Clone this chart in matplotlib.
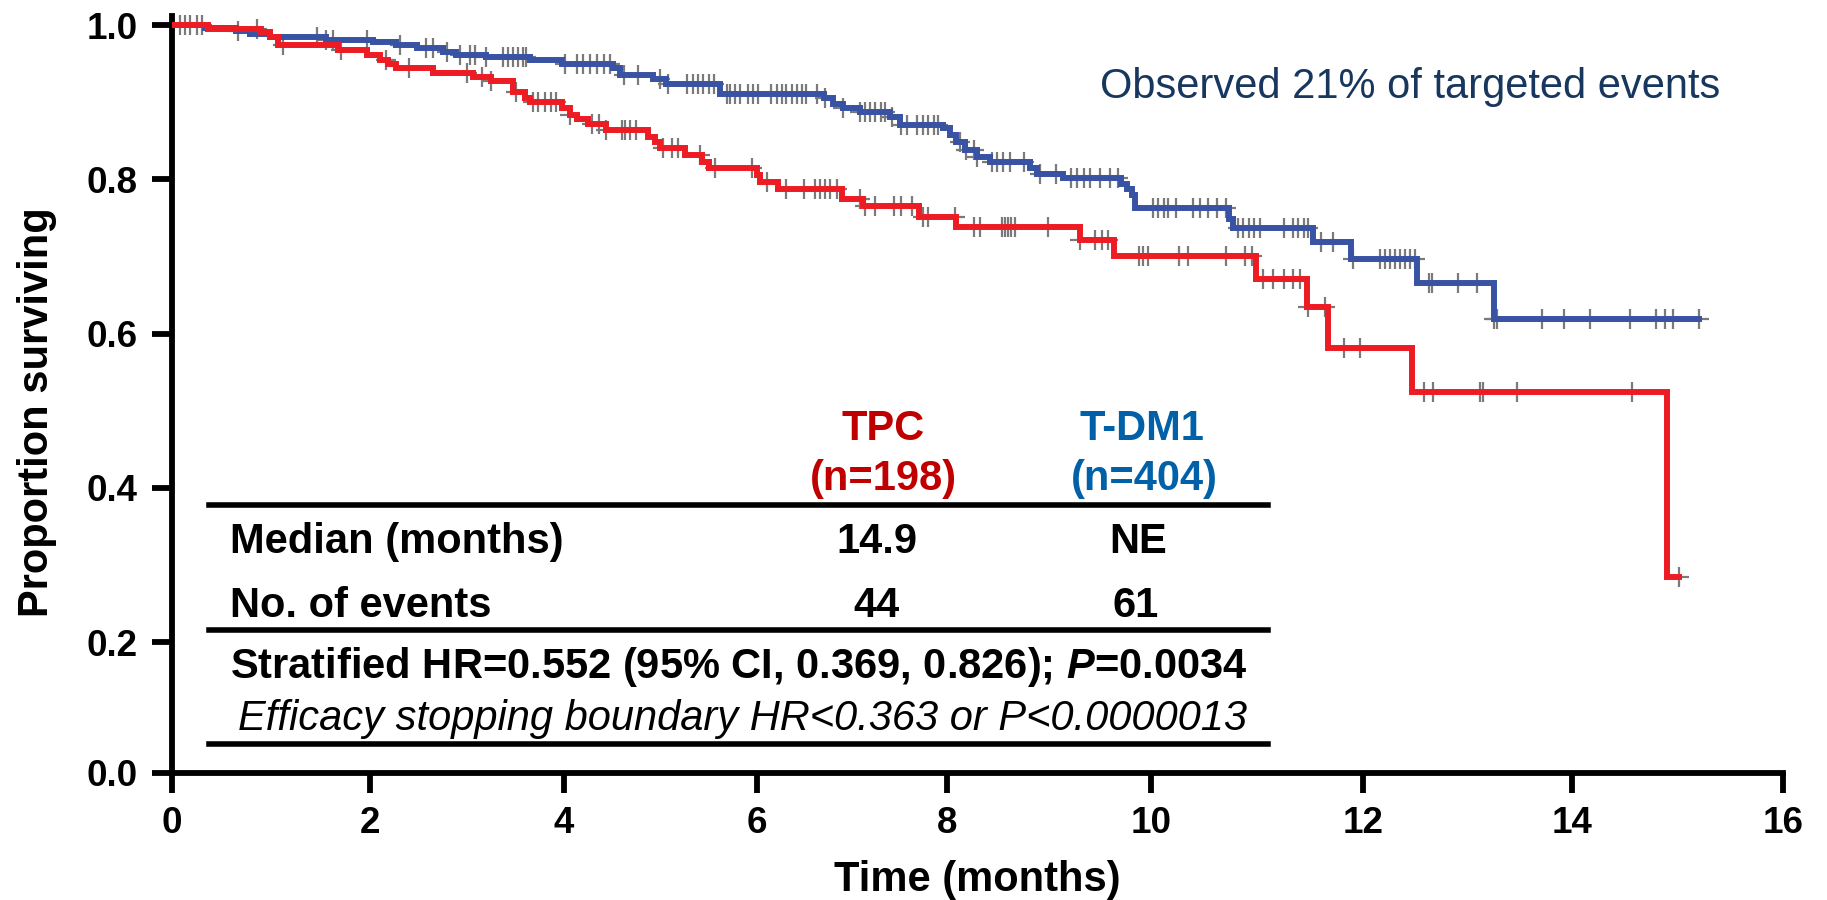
import numpy as np
import matplotlib
matplotlib.use("Agg")
import matplotlib.pyplot as plt
from matplotlib.lines import Line2D

plt.rcParams['font.family'] = ['Liberation Sans', 'DejaVu Sans']
plt.rcParams['mathtext.fontset'] = 'custom'
plt.rcParams['mathtext.rm'] = 'Liberation Sans:bold'
plt.rcParams['mathtext.bfit'] = 'Liberation Sans:italic:bold'

# Kaplan-Meier steps (time in months, proportion surviving after the drop)
tpc_time = [0, 0.36, 0.90, 0.99, 1.07, 1.68, 1.97, 2.10, 2.19, 2.27, 2.65, 3.06, 3.25, 3.47,
            3.60, 3.65, 3.98, 4.06, 4.13, 4.25, 4.44, 4.87, 4.94, 4.99, 5.25, 5.43, 5.50,
            6.00, 6.03, 6.22, 6.89, 7.12, 7.71, 8.09, 9.30, 9.64, 10.99, 11.47, 11.67,
            12.47, 14.90]
tpc_surv = [1.0, 0.995, 0.991, 0.985, 0.974, 0.968, 0.961, 0.955, 0.949, 0.944, 0.938, 0.932,
            0.927, 0.913, 0.906, 0.900, 0.892, 0.883, 0.878, 0.872, 0.864, 0.855, 0.848,
            0.840, 0.832, 0.822, 0.814, 0.805, 0.796, 0.788, 0.775, 0.765, 0.751, 0.738,
            0.721, 0.701, 0.671, 0.634, 0.581, 0.524, 0.284]
tdm1_time = [0, 0.33, 0.65, 0.79, 0.99, 1.56, 2.03, 2.27, 2.48, 2.75, 2.89, 3.20, 3.65, 3.98,
             4.51, 4.58, 4.92, 5.06, 5.62, 6.70, 6.80, 6.91, 7.08, 7.40, 7.51, 7.96, 8.03,
             8.09, 8.18, 8.29, 8.42, 8.81, 8.88, 9.14, 9.71, 9.76, 9.81, 9.84, 10.74, 10.77,
             11.53, 11.89, 12.52, 13.25]
tdm1_surv = [1.0, 0.996, 0.992, 0.989, 0.985, 0.981, 0.978, 0.974, 0.970, 0.965, 0.961, 0.958,
             0.954, 0.950, 0.944, 0.935, 0.930, 0.924, 0.911, 0.905, 0.898, 0.892, 0.887,
             0.881, 0.871, 0.866, 0.857, 0.848, 0.838, 0.829, 0.822, 0.814, 0.807, 0.802,
             0.794, 0.788, 0.779, 0.763, 0.749, 0.737, 0.719, 0.697, 0.665, 0.619]

# censored observations (months)
tpc_cens = [0.08, 0.13, 0.30, 0.86, 1.12, 1.71, 2.17, 2.40, 3.00, 3.15, 3.25, 3.50, 3.68, 3.73,
            3.80, 3.87, 3.92, 4.06, 4.29, 4.36, 4.44, 4.60, 4.63, 4.68, 4.75, 5.03, 5.12, 5.18,
            5.41, 5.56, 5.95, 6.10, 6.31, 6.49, 6.61, 6.66, 6.72, 6.77, 6.84, 7.08, 7.14, 7.24,
            7.44, 7.52, 7.63, 7.75, 7.80, 8.08, 8.26, 8.32, 8.54, 8.57, 8.60, 8.63, 8.67, 8.99,
            9.30, 9.45, 9.52, 9.58, 9.88, 9.92, 9.97, 10.26, 10.35, 10.71, 10.89, 10.95, 11.06,
            11.15, 11.25, 11.34, 11.41, 11.48, 11.64, 11.82, 11.97, 12.58, 12.67, 13.12, 13.15,
            13.47, 14.57, 15.01]
tdm1_cens = [0.18, 0.25, 0.67, 1.46, 1.56, 1.63, 1.97, 2.31, 2.58, 2.65, 2.79, 2.93, 3.03, 3.08,
             3.20, 3.37, 3.42, 3.47, 3.53, 3.58, 3.61, 4.01, 4.13, 4.20, 4.27, 4.34, 4.41, 4.48,
             4.62, 4.77, 4.99, 5.08, 5.27, 5.34, 5.39, 5.44, 5.50, 5.55, 5.69, 5.72, 5.77, 5.82,
             5.91, 5.96, 6.01, 6.15, 6.21, 6.26, 6.31, 6.37, 6.42, 6.47, 6.52, 6.63, 6.72, 6.91,
             7.08, 7.14, 7.19, 7.24, 7.30, 7.35, 7.42, 7.52, 7.58, 7.68, 7.75, 7.80, 7.86, 7.91,
             8.13, 8.19, 8.26, 8.29, 8.44, 8.49, 8.55, 8.62, 8.75, 8.91, 9.07, 9.22, 9.27, 9.34,
             9.40, 9.50, 9.60, 9.68, 10.02, 10.07, 10.12, 10.16, 10.24, 10.40, 10.46, 10.54,
             10.62, 10.71, 10.82, 10.87, 10.92, 10.97, 11.03, 11.25, 11.34, 11.39, 11.44, 11.48,
             11.60, 11.72, 11.91, 12.16, 12.21, 12.26, 12.31, 12.35, 12.40, 12.45, 12.50, 12.63,
             12.66, 12.91, 13.09, 13.25, 13.28, 13.71, 13.92, 14.17, 14.55, 14.80, 14.88, 14.96,
             15.20]

x_ticks = [0, 2, 4, 6, 8, 10, 12, 14, 16]
y_ticks = [0.0, 0.2, 0.4, 0.6, 0.8, 1.0]

W, H = 1827, 900


def piecewise(src, dst):
    # linear between knots, extended with the end slopes
    def make(a, b):
        a = np.asarray(a, float)
        b = np.asarray(b, float)
        lo = (b[1] - b[0]) / (a[1] - a[0])
        hi = (b[-1] - b[-2]) / (a[-1] - a[-2])

        def f(v):
            v = np.asarray(v, float)
            out = np.interp(v, a, b)
            out = np.where(v < a[0], b[0] + (v - a[0]) * lo, out)
            out = np.where(v > a[-1], b[-1] + (v - a[-1]) * hi, out)
            return out
        return f
    return make(src, dst), make(dst, src)


def surv_at(times, surv, t):
    idx = np.searchsorted(times, t, side='right') - 1
    return np.asarray(surv)[idx]


fig = plt.figure(figsize=(W / 100, H / 100), dpi=100)
ax = fig.add_axes([172 / W, 1 - 773 / H, 1611 / W, 757 / H])

# axis scales follow the slide's tick spacing
ax.set_xscale('function', functions=piecewise(x_ticks, [0, 198, 392, 585, 775, 979, 1191, 1400, 1611]))
ax.set_yscale('function', functions=piecewise([0.0, 0.2, 1.0], [0, 131, 748]))

groups = [
    (tdm1_time, tdm1_surv, tdm1_cens, '#3953a4'),
    (tpc_time, tpc_surv, tpc_cens, '#ed1c24'),
]
# censor ticks sit underneath the curves
for times, surv, cens, col in groups:
    ax.plot(cens, surv_at(times, surv, cens), ls='none', marker='+', ms=14, mew=1.6,
            color='#7a7a7a', zorder=2, clip_on=False)
for times, surv, cens, col in groups:
    end = max(cens)
    ax.step(list(times) + [end], list(surv) + [surv[-1]], where='post',
            color=col, lw=4.3, zorder=3, solid_joinstyle='miter')

ax.set_xlim(0, 16)
ax.set_ylim(0, 1.0117)
ax.set_xticks(x_ticks)
ax.set_xticklabels([str(t) for t in x_ticks], fontweight='bold')
ax.set_yticks(y_ticks)
ax.set_yticklabels(['%.1f' % v for v in y_ticks], fontweight='bold')
ax.tick_params(axis='both', direction='out', length=14.5, width=4.2, labelsize=26.5)
ax.tick_params(axis='x', pad=9)
ax.tick_params(axis='y', pad=10)
for s in ['top', 'right']:
    ax.spines[s].set_visible(False)
for s in ['left', 'bottom']:
    ax.spines[s].set_linewidth(4.2)

ax.set_xlabel('Time (months)', fontsize=30, fontweight='bold', va='baseline')
ax.xaxis.set_label_coords(0.5, (773 - 891) / 757)
ax.set_ylabel('Proportion surviving', fontsize=30, fontweight='bold', va='center')
ax.yaxis.set_label_coords((37 - 172) / 1611, (773 - 412) / 757)


def ftext(px, py, s, **kw):
    kw.setdefault('fontsize', 30)
    kw.setdefault('fontweight', 'bold')
    kw.setdefault('va', 'baseline')
    return fig.text(px / W, 1 - py / H, s, **kw)


def hline(py, x0=209, x1=1268):
    fig.add_artist(Line2D([x0 / W, x1 / W], [1 - py / H] * 2, color='black', lw=4.0))


ftext(1100, 98, 'Observed 21% of targeted events', fontweight='normal', color='#17375e', ha='left')

red_txt = '#c00000'
blue_txt = '#0060a8'
ftext(883, 440, 'TPC', color=red_txt, ha='center')
ftext(883, 490, '(n=198)', color=red_txt, ha='center')
ftext(1142, 440, 'T-DM1', color=blue_txt, ha='center')
ftext(1144, 490, '(n=404)', color=blue_txt, ha='center')
hline(505)
ftext(230, 553, 'Median (months)', ha='left')
ftext(877, 553, '14.9', ha='center')
ftext(1138, 553, 'NE', ha='center')
ftext(230, 617, 'No. of events', ha='left')
ftext(876, 617, '44', ha='center')
ftext(1136, 617, '61', ha='center')
hline(630)
ftext(739, 678, r'Stratified HR=0.552 (95% CI, 0.369, 0.826); $\mathbfit{P}$=0.0034', ha='center')
ftext(742, 730, 'Efficacy stopping boundary HR<0.363 or P<0.0000013',
      fontweight='normal', style='italic', ha='center')
hline(744)

fig.savefig('out.png', dpi=100)
